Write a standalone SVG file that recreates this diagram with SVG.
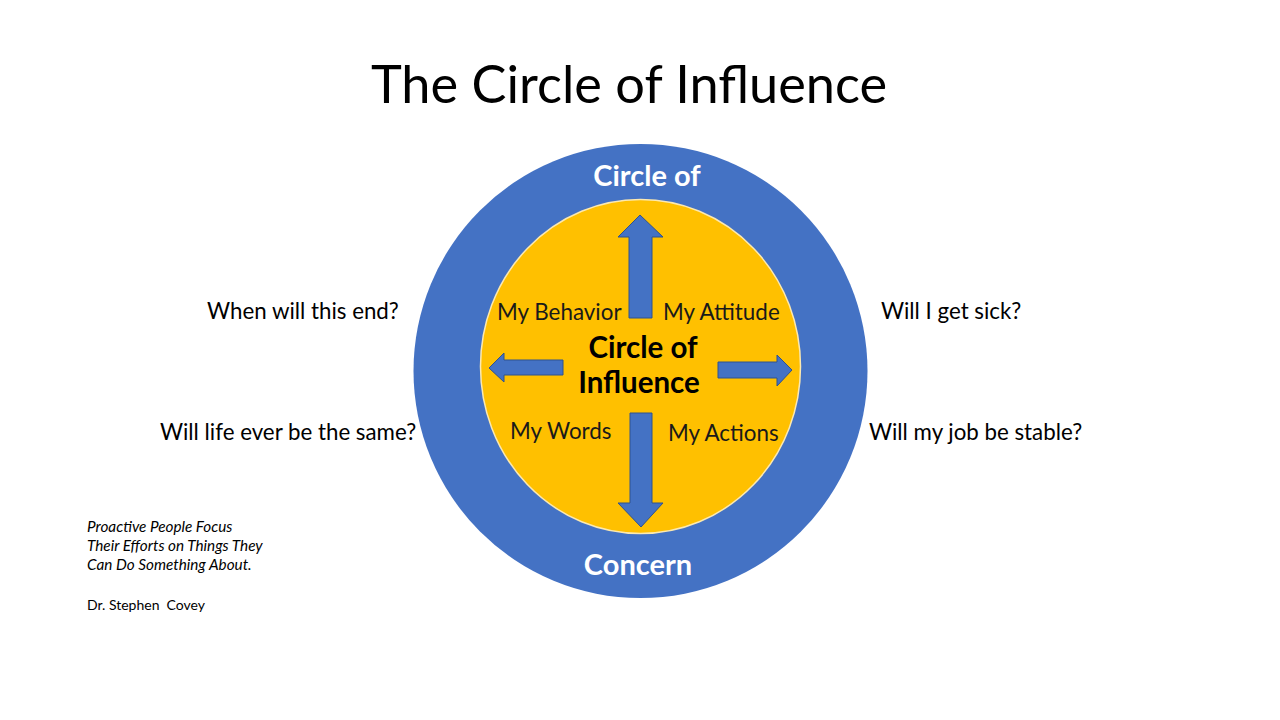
<svg xmlns="http://www.w3.org/2000/svg" width="1280" height="720" viewBox="0 0 1280 720">
<style>
text{font-family:Lato,"Open Sans","Liberation Sans",sans-serif;fill:#000}
.q{font-size:22.3px}
.in{font-size:22.4px;fill:#1a1a1a}
.b{font-weight:bold;font-size:29.5px}
.w{fill:#fff;font-size:29px;font-weight:bold}
.it{font-size:15.3px;font-style:italic}
.arr{fill:#4472C4;stroke:#2F528F;stroke-width:1}
</style>
<rect width="1280" height="720" fill="#fff"/>
<text x="629" y="103" text-anchor="middle" font-size="52.3">The Circle of Influence</text>
<g id="concern">
<circle cx="640.5" cy="371" r="227" fill="#4472C4"/>
<text class="w" x="647" y="186" text-anchor="middle">Circle of</text>
<text class="w" x="638" y="575" text-anchor="middle">Concern</text>
</g>
<g id="influence">
<ellipse cx="640.5" cy="366.5" rx="160" ry="167" fill="#FFC000" stroke="#FCE9B0" stroke-width="1.5"/>
<text class="b" x="643" y="358" text-anchor="middle">Circle of</text>
<text class="b" x="639" y="393" text-anchor="middle">Influence</text>
</g>
<g id="arrows">
<polygon class="arr" points="640,215 663,237 652,237 652,318 629,318 629,237 618,237"/>
<polygon class="arr" points="641,527 663,503 652,503 652,413 630,413 630,503 618,503"/>
<polygon class="arr" points="489,368 504,353 504,360 563,360 563,375 504,375 504,382"/>
<polygon class="arr" points="792,370 777,355 777,362 718,362 718,378 777,378 777,386"/>
</g>
<g id="labels">
<text class="in" x="497" y="320">My Behavior</text>
<text class="in" x="663" y="320">My Attitude</text>
<text class="in" x="510" y="439">My Words</text>
<text class="in" x="668" y="441">My Actions</text>
</g>
<g id="questions">
<text class="q" x="207" y="319">When will this end?</text>
<text class="q" x="160" y="440">Will life ever be the same?</text>
<text class="q" x="881" y="319">Will I get sick?</text>
<text class="q" x="869" y="440">Will my job be stable?</text>
</g>
<g id="quote">
<text class="it" x="87" y="532">Proactive People Focus</text>
<text class="it" x="87" y="551">Their Efforts on Things They</text>
<text class="it" x="87" y="570">Can Do Something About.</text>
<text x="87" y="610" font-size="14" xml:space="preserve">Dr. Stephen  Covey</text>
</g>
</svg>
